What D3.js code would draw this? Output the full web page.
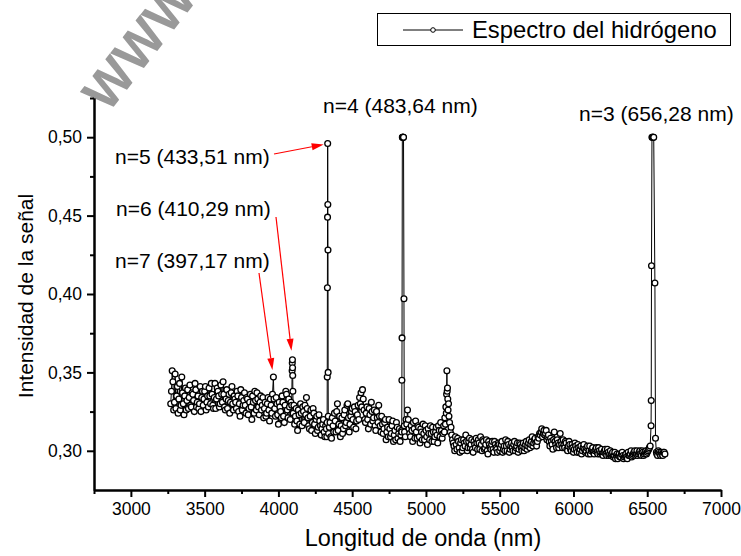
<!DOCTYPE html>
<html>
<head>
<meta charset="utf-8">
<script src="https://cdn.jsdelivr.net/npm/d3@7"></script>
<style>
  body { margin: 0; background: #fff; }
  svg { display: block; }
  text { font-family: Arial, "Liberation Sans", sans-serif; }
</style>
</head>
<body>
<div id="chart"></div>
<script>
// wavelength (as on the axis) and signal
var waves = [
  3270, 3280, 3290, 3300, 3310, 3320, 3330, 3340, 3350, 3360,
  3370, 3380, 3390, 3400, 3410, 3420, 3430, 3440, 3450, 3460,
  3470, 3480, 3490, 3500, 3510, 3520, 3530, 3540, 3550, 3560,
  3570, 3580, 3590, 3600, 3610, 3620, 3630, 3640, 3650, 3660,
  3670, 3680, 3690, 3700, 3710, 3720, 3730, 3740, 3750, 3760,
  3770, 3780, 3790, 3800, 3810, 3820, 3830, 3840, 3850, 3860,
  3870, 3880, 3890, 3900, 3910, 3920, 3930, 3940, 3950, 3960,
  3966, 3970, 3980, 3990, 4000, 4010, 4020, 4030, 4040, 4050,
  4060, 4070, 4080, 4090, 4093, 4094, 4095, 4096, 4097, 4098,
  4100, 4110, 4120, 4130, 4140, 4150, 4160, 4170, 4180, 4190,
  4200, 4210, 4220, 4230, 4240, 4250, 4260, 4270, 4280, 4290,
  4300, 4310, 4320, 4328, 4330, 4331, 4332, 4333, 4334, 4335,
  4336, 4337, 4338, 4340, 4350, 4360, 4370, 4380, 4390, 4400,
  4410, 4420, 4430, 4440, 4450, 4460, 4470, 4480, 4490, 4500,
  4510, 4520, 4530, 4540, 4550, 4560, 4570, 4580, 4590, 4600,
  4610, 4620, 4630, 4640, 4650, 4660, 4670, 4680, 4690, 4700,
  4710, 4720, 4730, 4740, 4750, 4760, 4770, 4780, 4790, 4800,
  4810, 4820, 4830, 4836, 4837, 4838, 4840, 4842, 4844, 4846,
  4848, 4851, 4853, 4860, 4870, 4875, 4880, 4890, 4900, 4910,
  4920, 4930, 4940, 4950, 4960, 4970, 4980, 4990, 5000, 5010,
  5020, 5030, 5040, 5050, 5060, 5070, 5080, 5090, 5100, 5110,
  5120, 5125, 5128, 5132, 5135, 5138, 5140, 5142, 5144, 5146,
  5148, 5150, 5153, 5156, 5160, 5165, 5170, 5180, 5190, 5200,
  5210, 5220, 5230, 5240, 5250, 5260, 5270, 5280, 5290, 5300,
  5310, 5320, 5330, 5340, 5350, 5360, 5370, 5380, 5390, 5400,
  5410, 5420, 5430, 5440, 5450, 5460, 5470, 5480, 5490, 5500,
  5510, 5520, 5530, 5540, 5550, 5560, 5570, 5580, 5590, 5600,
  5610, 5620, 5630, 5640, 5650, 5660, 5670, 5680, 5690, 5700,
  5710, 5720, 5730, 5740, 5750, 5760, 5770, 5780, 5790, 5800,
  5810, 5820, 5830, 5840, 5850, 5860, 5870, 5880, 5890, 5900,
  5910, 5920, 5930, 5940, 5950, 5960, 5970, 5980, 5990, 6000,
  6010, 6020, 6030, 6040, 6050, 6060, 6070, 6080, 6090, 6100,
  6110, 6120, 6130, 6140, 6150, 6160, 6170, 6180, 6190, 6200,
  6210, 6220, 6230, 6240, 6250, 6260, 6270, 6280, 6290, 6300,
  6310, 6320, 6330, 6340, 6350, 6360, 6370, 6380, 6390, 6400,
  6410, 6420, 6430, 6440, 6450, 6460, 6470, 6480, 6490, 6500,
  6510, 6520, 6526, 6527, 6529, 6532, 6535, 6538, 6541, 6544,
  6552, 6556, 6562, 6570, 6580, 6590, 6600, 6610, 6620
];
var signal = [
  0.330, 0.351, 0.326, 0.349, 0.335, 0.324, 0.343, 0.329, 0.337, 0.323,
  0.340, 0.332, 0.327, 0.342, 0.328, 0.336, 0.325, 0.339, 0.331, 0.327,
  0.341, 0.334, 0.329, 0.338, 0.326, 0.335, 0.340, 0.330, 0.336, 0.327,
  0.343, 0.333, 0.338, 0.328, 0.342, 0.331, 0.336, 0.326, 0.339, 0.332,
  0.324, 0.337, 0.330, 0.335, 0.331, 0.338, 0.325, 0.322, 0.334, 0.329,
  0.337, 0.324, 0.333, 0.327, 0.336, 0.320, 0.331, 0.338, 0.326, 0.333,
  0.323, 0.335, 0.329, 0.321, 0.331, 0.324, 0.334, 0.319, 0.329, 0.336,
  0.347, 0.333, 0.322, 0.330, 0.317, 0.328, 0.321, 0.331, 0.318, 0.338,
  0.326, 0.333, 0.320, 0.329, 0.351, 0.356, 0.358, 0.353, 0.348, 0.338,
  0.324, 0.317, 0.327, 0.313, 0.323, 0.330, 0.316, 0.325, 0.329, 0.334,
  0.321, 0.314, 0.326, 0.318, 0.324, 0.311, 0.322, 0.315, 0.319, 0.310,
  0.317, 0.312, 0.316, 0.309, 0.318, 0.347, 0.404, 0.449, 0.496, 0.457,
  0.428, 0.350, 0.322, 0.311, 0.318, 0.308, 0.316, 0.324, 0.312, 0.330,
  0.317, 0.309, 0.321, 0.314, 0.326, 0.318, 0.330, 0.312, 0.322, 0.327,
  0.315, 0.325, 0.319, 0.329, 0.334, 0.337, 0.339, 0.326, 0.318, 0.328,
  0.314, 0.323, 0.331, 0.319, 0.326, 0.313, 0.321, 0.329, 0.316, 0.322,
  0.311, 0.318, 0.307, 0.315, 0.320, 0.309, 0.316, 0.306, 0.313, 0.318,
  0.308, 0.314, 0.310, 0.312, 0.345, 0.372, 0.500, 0.500, 0.500, 0.500,
  0.500, 0.397, 0.316, 0.309, 0.317, 0.326, 0.320, 0.311, 0.316, 0.306,
  0.314, 0.319, 0.308, 0.315, 0.305, 0.312, 0.317, 0.307, 0.313, 0.304,
  0.311, 0.316, 0.306, 0.312, 0.309, 0.315, 0.305, 0.313, 0.318, 0.308,
  0.316, 0.312, 0.321, 0.317, 0.328, 0.324, 0.336, 0.351, 0.338, 0.340,
  0.333, 0.326, 0.330, 0.322, 0.318, 0.312, 0.315, 0.307, 0.303, 0.309,
  0.301, 0.306, 0.299, 0.307, 0.302, 0.305, 0.310, 0.300, 0.306, 0.302,
  0.307, 0.299, 0.304, 0.308, 0.301, 0.305, 0.309, 0.300, 0.306, 0.302,
  0.307, 0.298, 0.304, 0.301, 0.306, 0.299, 0.304, 0.301, 0.305, 0.300,
  0.304, 0.299, 0.303, 0.307, 0.300, 0.304, 0.301, 0.305, 0.300, 0.306,
  0.302, 0.305, 0.301, 0.304, 0.300, 0.305, 0.302, 0.306, 0.303, 0.307,
  0.304, 0.309, 0.305, 0.308, 0.303, 0.309, 0.311, 0.312, 0.309, 0.313,
  0.311, 0.307, 0.310, 0.303, 0.306, 0.301, 0.312, 0.304, 0.307, 0.302,
  0.311, 0.304, 0.307, 0.302, 0.305, 0.300, 0.306, 0.301, 0.304, 0.299,
  0.305, 0.301, 0.304, 0.299, 0.303, 0.300, 0.304, 0.299, 0.302, 0.298,
  0.303, 0.300, 0.302, 0.298, 0.301, 0.299, 0.302, 0.298, 0.301, 0.297,
  0.300, 0.298, 0.301, 0.297, 0.300, 0.298, 0.296, 0.299, 0.297, 0.295,
  0.298, 0.296, 0.299, 0.295, 0.297, 0.296, 0.299, 0.297, 0.300, 0.297,
  0.299, 0.297, 0.300, 0.298, 0.300, 0.297, 0.299, 0.298, 0.300, 0.299,
  0.301, 0.303, 0.316, 0.332, 0.418, 0.500, 0.500, 0.500, 0.500, 0.500,
  0.407, 0.308, 0.299, 0.297, 0.299, 0.297, 0.298, 0.299, 0.298
];

// the in-between samples of the noisy baseline (away from the lines)
var wavesFill = [
  3275, 3285, 3295, 3305, 3315, 3325, 3335, 3345, 3355, 3365,
  3375, 3385, 3395, 3405, 3415, 3425, 3435, 3445, 3455, 3465,
  3475, 3485, 3495, 3505, 3515, 3525, 3535, 3545, 3555, 3565,
  3575, 3585, 3595, 3605, 3615, 3625, 3635, 3645, 3655, 3665,
  3675, 3685, 3695, 3705, 3715, 3725, 3735, 3745, 3755, 3765,
  3775, 3785, 3795, 3805, 3815, 3825, 3835, 3845, 3855, 3865,
  3875, 3885, 3895, 3905, 3915, 3925, 3935, 3945, 3955,
  3975, 3985, 3995, 4005, 4015, 4025, 4035, 4045, 4055, 4065, 4075, 4085,
  4105, 4115, 4125, 4135, 4145, 4155, 4165, 4175, 4185, 4195,
  4205, 4215, 4225, 4235, 4245, 4255, 4265, 4275, 4285, 4295,
  4305, 4315, 4325,
  4345, 4355, 4365, 4375, 4385, 4395, 4405, 4415, 4425, 4435,
  4445, 4455, 4465, 4475, 4485, 4495, 4505, 4515, 4525, 4535,
  4545, 4555, 4565, 4575, 4585, 4595, 4605, 4615, 4625, 4635,
  4645, 4655, 4665, 4675, 4685, 4695, 4705, 4715, 4725, 4735,
  4745, 4755, 4765, 4775, 4785, 4795, 4805, 4815, 4825, 4835,
  4855, 4865, 4885, 4895, 4905, 4915, 4925, 4935, 4945, 4955,
  4965, 4975, 4985, 4995, 5005, 5015, 5025, 5035, 5045, 5055,
  5065, 5075, 5085, 5095, 5105, 5115,
  5175, 5185, 5195, 5205, 5215, 5225, 5235, 5245, 5255, 5265,
  5275, 5285, 5295, 5305, 5315, 5325, 5335, 5345, 5355, 5365,
  5375, 5385, 5395, 5405, 5415, 5425, 5435, 5445, 5455, 5465,
  5475, 5485, 5495, 5505, 5515, 5525, 5535, 5545, 5555, 5565,
  5575, 5585, 5595, 5605, 5615, 5625, 5635, 5645, 5655, 5665,
  5675, 5685, 5695, 5705, 5715, 5725, 5735, 5745, 5755, 5765,
  5775, 5785, 5795, 5805, 5815, 5825, 5835, 5845, 5855, 5865,
  5875, 5885, 5895, 5905, 5915, 5925, 5935, 5945, 5955, 5965,
  5975, 5985, 5995, 6005, 6015, 6025, 6035, 6045, 6055, 6065,
  6075, 6085, 6095, 6105, 6115, 6125, 6135, 6145, 6155, 6165,
  6175, 6185, 6195, 6205, 6215, 6225, 6235, 6245, 6255, 6265,
  6275, 6285, 6295, 6305, 6315, 6325, 6335, 6345, 6355, 6365,
  6375, 6385, 6395, 6405, 6415, 6425, 6435, 6445, 6455, 6465,
  6475, 6485, 6495, 6505, 6515,
  6565, 6575, 6585, 6595, 6605, 6615
];
var signalFill = [
  0.338, 0.344, 0.331, 0.327, 0.341, 0.333, 0.326, 0.347, 0.330, 0.335,
  0.326, 0.339, 0.334, 0.329, 0.337, 0.332, 0.343, 0.328, 0.335, 0.330,
  0.325, 0.338, 0.333, 0.341, 0.331, 0.328, 0.335, 0.343, 0.329, 0.334,
  0.327, 0.340, 0.335, 0.330, 0.336, 0.344, 0.328, 0.333, 0.327, 0.336,
  0.331, 0.341, 0.326, 0.333, 0.327, 0.335, 0.330, 0.339, 0.326, 0.332,
  0.329, 0.334, 0.323, 0.331, 0.328, 0.335, 0.324, 0.332, 0.337, 0.328,
  0.331, 0.326, 0.334, 0.327, 0.322, 0.330, 0.326, 0.333, 0.324,
  0.327, 0.334, 0.323, 0.331, 0.325, 0.335, 0.322, 0.329, 0.336, 0.321, 0.328, 0.331,
  0.329, 0.322, 0.319, 0.326, 0.317, 0.324, 0.328, 0.318, 0.323, 0.327,
  0.316, 0.322, 0.313, 0.327, 0.317, 0.320, 0.313, 0.323, 0.316, 0.314,
  0.320, 0.309, 0.314,
  0.315, 0.309, 0.321, 0.312, 0.319, 0.325, 0.313, 0.322, 0.316, 0.311,
  0.323, 0.316, 0.329, 0.321, 0.317, 0.325, 0.320, 0.328, 0.314, 0.323,
  0.320, 0.330, 0.328, 0.333, 0.320, 0.324, 0.320, 0.327, 0.317, 0.325,
  0.321, 0.316, 0.325, 0.318, 0.322, 0.312, 0.317, 0.314, 0.320, 0.312,
  0.309, 0.314, 0.311, 0.319, 0.310, 0.307, 0.315, 0.311, 0.306, 0.313,
  0.312, 0.320, 0.314, 0.309, 0.313, 0.318, 0.308, 0.312, 0.316, 0.309,
  0.314, 0.307, 0.311, 0.316, 0.309, 0.314, 0.307, 0.311, 0.315, 0.306,
  0.312, 0.310, 0.316, 0.309, 0.313, 0.311,
  0.310, 0.305, 0.300, 0.304, 0.308, 0.302, 0.305, 0.300, 0.307, 0.303,
  0.306, 0.302, 0.308, 0.304, 0.301, 0.306, 0.302, 0.305, 0.307, 0.301,
  0.304, 0.307, 0.301, 0.304, 0.300, 0.306, 0.302, 0.304, 0.301, 0.306,
  0.302, 0.299, 0.304, 0.302, 0.306, 0.301, 0.300, 0.303, 0.306, 0.299,
  0.303, 0.302, 0.304, 0.300, 0.303, 0.299, 0.305, 0.302, 0.303, 0.300,
  0.304, 0.301, 0.305, 0.302, 0.306, 0.303, 0.307, 0.305, 0.306, 0.308,
  0.310, 0.314, 0.311, 0.310, 0.313, 0.309, 0.306, 0.308, 0.304, 0.307,
  0.306, 0.302, 0.305, 0.304, 0.306, 0.302, 0.304, 0.306, 0.301, 0.303,
  0.304, 0.300, 0.302, 0.301, 0.303, 0.299, 0.302, 0.301, 0.298, 0.302,
  0.301, 0.300, 0.303, 0.300, 0.298, 0.301, 0.299, 0.300, 0.302, 0.298,
  0.300, 0.299, 0.298, 0.299, 0.301, 0.297, 0.299, 0.298, 0.297, 0.299,
  0.297, 0.295, 0.298, 0.297, 0.296, 0.298, 0.297, 0.296, 0.298, 0.295,
  0.297, 0.298, 0.296, 0.298, 0.300, 0.298, 0.297, 0.299, 0.298, 0.300,
  0.297, 0.299, 0.298, 0.300, 0.302,
  0.298, 0.300, 0.298, 0.299, 0.297, 0.299
];

var xMajor = [3000, 3500, 4000, 4500, 5000, 5500, 6000, 6500, 7000];
var xMinor = [2750, 3250, 3750, 4250, 4750, 5250, 5750, 6250, 6750];
var yMajor = [0.30, 0.35, 0.40, 0.45, 0.50];
var yMinor = [0.325, 0.375, 0.425, 0.475, 0.525];

var xTitle = 'Longitud de onda (nm)';
var yTitle = 'Intensidad de la señal';
var legendLabel = 'Espectro del hidrógeno';

// line labels: text, where it sits, and the point its arrow goes to (if any)
var lineLabels = [
  { text: 'n=4 (483,64 nm)', x: 323, y: 113 },
  { text: 'n=3 (656,28 nm)', x: 579, y: 121 },
  { text: 'n=5 (433,51 nm)', x: 115, y: 164, from: [274, 154], to: [4334, 0.496], off: [-4, 1] },
  { text: 'n=6 (410,29 nm)', x: 116, y: 216, from: [276, 217], to: [4095, 0.358], off: [-1, -9] },
  { text: 'n=7 (397,17 nm)', x: 115, y: 268, from: [259, 273], to: [3966, 0.347], off: [-1, -7] }
];

var width = 741, height = 556;

var svg = d3.select('#chart').append('svg')
  .attr('width', width)
  .attr('height', height);

var x = d3.scaleLinear().domain([2750, 7000]).range([94, 721]);
var y = d3.scaleLinear().domain([0.275, 0.525]).range([490, 98]);

// watermark
svg.append('text')
  .attr('transform', 'translate(108,114) rotate(-52)')
  .attr('font-size', '52px')
  .attr('font-weight', 'bold')
  .attr('fill', '#999')
  .text('WWW.');

// axes
var fmtY = function (d) { return d3.format('.2f')(d).replace('.', ','); };

svg.append('g')
  .attr('transform', 'translate(0,' + y(0.275) + ')')
  .call(d3.axisBottom(x).tickValues(xMajor).tickSize(7).tickSizeOuter(0).tickPadding(6).tickFormat(d3.format('d')));
svg.append('g')
  .attr('transform', 'translate(0,' + y(0.275) + ')')
  .call(d3.axisBottom(x).tickValues(xMinor).tickSize(4).tickSizeOuter(0).tickFormat(''));

svg.append('g')
  .attr('transform', 'translate(' + x(2750) + ',0)')
  .call(d3.axisLeft(y).tickValues(yMajor).tickSize(7).tickSizeOuter(0).tickPadding(5).tickFormat(fmtY));
svg.append('g')
  .attr('transform', 'translate(' + x(2750) + ',0)')
  .call(d3.axisLeft(y).tickValues(yMinor).tickSize(4).tickSizeOuter(0).tickFormat(''));

svg.selectAll('.domain').attr('stroke', '#000').attr('stroke-width', 2);
svg.selectAll('.tick line').attr('stroke', '#000').attr('stroke-width', 2);
svg.selectAll('.tick text')
  .attr('font-family', 'Arial, "Liberation Sans", sans-serif')
  .attr('font-size', '17.5px')
  .attr('fill', '#000');

svg.append('text')
  .attr('x', 423)
  .attr('y', 546)
  .attr('text-anchor', 'middle')
  .attr('font-size', '23.5px')
  .text(xTitle);

svg.append('text')
  .attr('transform', 'translate(33,296) rotate(-90)')
  .attr('text-anchor', 'middle')
  .attr('font-size', '21px')
  .text(yTitle);

// spectrum: both sample sets together, in wavelength order
var points = waves.map(function (w, i) { return [w, signal[i]]; })
  .concat(wavesFill.map(function (w, i) { return [w, signalFill[i]]; }))
  .sort(function (a, b) { return a[0] - b[0]; });

var line = d3.line()
  .x(function (d) { return x(d[0]); })
  .y(function (d) { return y(d[1]); });

svg.append('path')
  .datum(points)
  .attr('d', line)
  .attr('fill', 'none')
  .attr('stroke', '#000')
  .attr('stroke-width', 1);

svg.selectAll('circle.pt')
  .data(points)
  .enter()
  .append('circle')
  .attr('class', 'pt')
  .attr('cx', function (d) { return x(d[0]); })
  .attr('cy', function (d) { return y(d[1]); })
  .attr('r', 2.9)
  .attr('fill', '#fff')
  .attr('stroke', '#000')
  .attr('stroke-width', 1.3);

// labels and red arrows
lineLabels.forEach(function (lb) {
  svg.append('text')
    .attr('x', lb.x)
    .attr('y', lb.y)
    .attr('font-size', '21px')
    .text(lb.text);

  if (!lb.to) return;
  var x0 = lb.from[0], y0 = lb.from[1];
  var x1 = x(lb.to[0]) + lb.off[0], y1 = y(lb.to[1]) + lb.off[1];
  var ang = Math.atan2(y1 - y0, x1 - x0);
  var headLen = 12, headW = 3.5;
  var bx = x1 - headLen * Math.cos(ang), by = y1 - headLen * Math.sin(ang);

  svg.append('line')
    .attr('x1', x0).attr('y1', y0)
    .attr('x2', bx).attr('y2', by)
    .attr('stroke', '#f00')
    .attr('stroke-width', 1.2);

  svg.append('polygon')
    .attr('points', [
      [x1, y1],
      [bx + headW * Math.sin(ang), by - headW * Math.cos(ang)],
      [bx - headW * Math.sin(ang), by + headW * Math.cos(ang)]
    ].map(function (p) { return p.join(','); }).join(' '))
    .attr('fill', '#f00');
});

// legend
var legend = svg.append('g');
legend.append('rect')
  .attr('x', 377.5).attr('y', 13.5)
  .attr('width', 353).attr('height', 32)
  .attr('fill', '#fff')
  .attr('stroke', '#000')
  .attr('stroke-width', 1);
legend.append('line')
  .attr('x1', 403).attr('x2', 463)
  .attr('y1', 30).attr('y2', 30)
  .attr('stroke', '#000')
  .attr('stroke-width', 1);
legend.append('circle')
  .attr('cx', 433).attr('cy', 30)
  .attr('r', 2.3)
  .attr('fill', '#fff')
  .attr('stroke', '#000');
legend.append('text')
  .attr('x', 472)
  .attr('y', 38)
  .attr('font-size', '23.8px')
  .text(legendLabel);
</script>
</body>
</html>
